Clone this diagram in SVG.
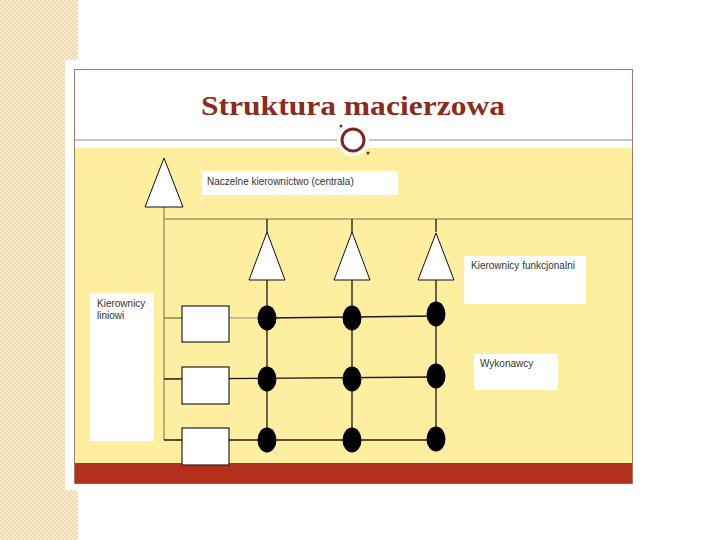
<svg xmlns="http://www.w3.org/2000/svg" width="720" height="540" viewBox="0 0 720 540">
<defs>
<pattern id="chk" width="4" height="4" patternUnits="userSpaceOnUse">
<rect width="4" height="4" fill="#f8ebd0"/>
<rect width="2" height="2" fill="#f0dcb0"/>
<rect x="2" y="2" width="2" height="2" fill="#f0dcb0"/>
</pattern>
<style>
.lbl{font-family:"Liberation Sans",Arial,sans-serif;font-size:10px;fill:#333}
.box{fill:#fff;stroke:none}
.tri{fill:#fff;stroke:#111;stroke-width:1}
.rect{fill:#fff;stroke:#222;stroke-width:1.2}
.dot{fill:#000}
.ln{stroke:#1a1a1a;stroke-width:1.3;fill:none}
.lg{stroke:#a09a68;stroke-width:1.5;fill:none}
</style>
</defs>
<rect width="720" height="540" fill="#fff"/>
<rect x="0" y="0" width="78" height="540" fill="url(#chk)"/>
<rect x="65" y="60" width="570" height="430" fill="#fff"/>
<rect x="74.5" y="69.5" width="558" height="414" fill="#fff" stroke="#a87a6c" stroke-width="1"/>
<text x="353" y="115" text-anchor="middle" textLength="304" lengthAdjust="spacingAndGlyphs" font-family="'Liberation Serif','DejaVu Serif',serif" font-weight="bold" font-size="27" fill="#8c2a1c">Struktura macierzowa</text>
<rect x="75" y="148" width="557" height="315" fill="#fdef9f"/>
<rect x="75" y="463" width="557" height="20.5" fill="#b3301c"/>
<line x1="75" y1="140" x2="632" y2="140" stroke="#9c8a80" stroke-width="1"/>
<circle cx="353" cy="140" r="16" fill="#fff"/>
<circle cx="353" cy="140" r="11" fill="#fff" stroke="#7e2618" stroke-width="3"/>
<circle cx="341" cy="126" r="1.5" fill="#7e2618"/>
<circle cx="368" cy="153" r="1.5" fill="#7e2618"/>

<g id="connectors">
<line class="lg" x1="164" y1="207" x2="164" y2="440"/>
<line class="lg" x1="164" y1="219" x2="632" y2="219"/>
<line class="ln" x1="267" y1="219" x2="267" y2="232"/>
<line class="ln" x1="352" y1="219" x2="352" y2="232"/>
<line class="ln" x1="436" y1="219" x2="436" y2="232"/>
<line class="ln" x1="267" y1="280" x2="267" y2="440"/>
<line class="ln" x1="352" y1="280" x2="352" y2="440"/>
<line class="ln" x1="436" y1="280" x2="436" y2="439"/>
<line class="lg" x1="164" y1="318" x2="182" y2="318" style="stroke-width:1.2;stroke:#6d6a4a"/>
<line class="lg" x1="229" y1="318" x2="267" y2="318" style="stroke-width:1.2;stroke:#8a8a70"/>
<line class="ln" x1="267" y1="318" x2="436" y2="316"/>
<line class="ln" x1="164" y1="379" x2="436" y2="377"/>
<line class="ln" x1="164" y1="440" x2="436" y2="440"/>
</g>

<g id="centrala"><polygon class="tri" points="164,158 145,207 183,207"/></g>
<g id="lbl-centrala"><rect class="box" x="202" y="171" width="196" height="24"/><text class="lbl" x="207" y="185">Naczelne kierownictwo (centrala)</text></g>
<g id="f1"><polygon class="tri" points="267,232 249,280 285,280"/></g>
<g id="f2"><polygon class="tri" points="352,232 334,280 370,280"/></g>
<g id="f3"><polygon class="tri" points="436,233 418,280 454,280"/></g>
<g id="lbl-funkcjonalni"><rect class="box" x="464" y="256" width="122" height="48"/><text class="lbl" x="471" y="269">Kierownicy funkcjonalni</text></g>
<g id="lbl-liniowi"><rect class="box" x="90" y="293" width="64" height="148"/><text class="lbl" x="97" y="307">Kierownicy</text><text class="lbl" x="97" y="319">liniowi</text></g>
<g id="lbl-wykonawcy"><rect class="box" x="474" y="354" width="84" height="36"/><text class="lbl" x="480" y="367">Wykonawcy</text></g>
<g id="l1"><rect class="rect" x="182" y="306" width="47" height="36"/></g>
<g id="l2"><rect class="rect" x="182" y="367" width="47" height="37"/></g>
<g id="l3"><rect class="rect" x="182" y="428" width="47" height="37"/></g>
<g id="w11"><ellipse class="dot" cx="267" cy="318" rx="9.5" ry="12.5"/></g>
<g id="w12"><ellipse class="dot" cx="352" cy="318" rx="9.5" ry="12.5"/></g>
<g id="w13"><ellipse class="dot" cx="436" cy="314" rx="9.5" ry="12.5"/></g>
<g id="w21"><ellipse class="dot" cx="267" cy="379" rx="9.5" ry="12.5"/></g>
<g id="w22"><ellipse class="dot" cx="352" cy="379" rx="9.5" ry="12.5"/></g>
<g id="w23"><ellipse class="dot" cx="436" cy="376" rx="9.5" ry="12.5"/></g>
<g id="w31"><ellipse class="dot" cx="267" cy="440" rx="9.5" ry="12.5"/></g>
<g id="w32"><ellipse class="dot" cx="352" cy="440" rx="9.5" ry="12.5"/></g>
<g id="w33"><ellipse class="dot" cx="436" cy="439" rx="9.5" ry="12.5"/></g>
</svg>
